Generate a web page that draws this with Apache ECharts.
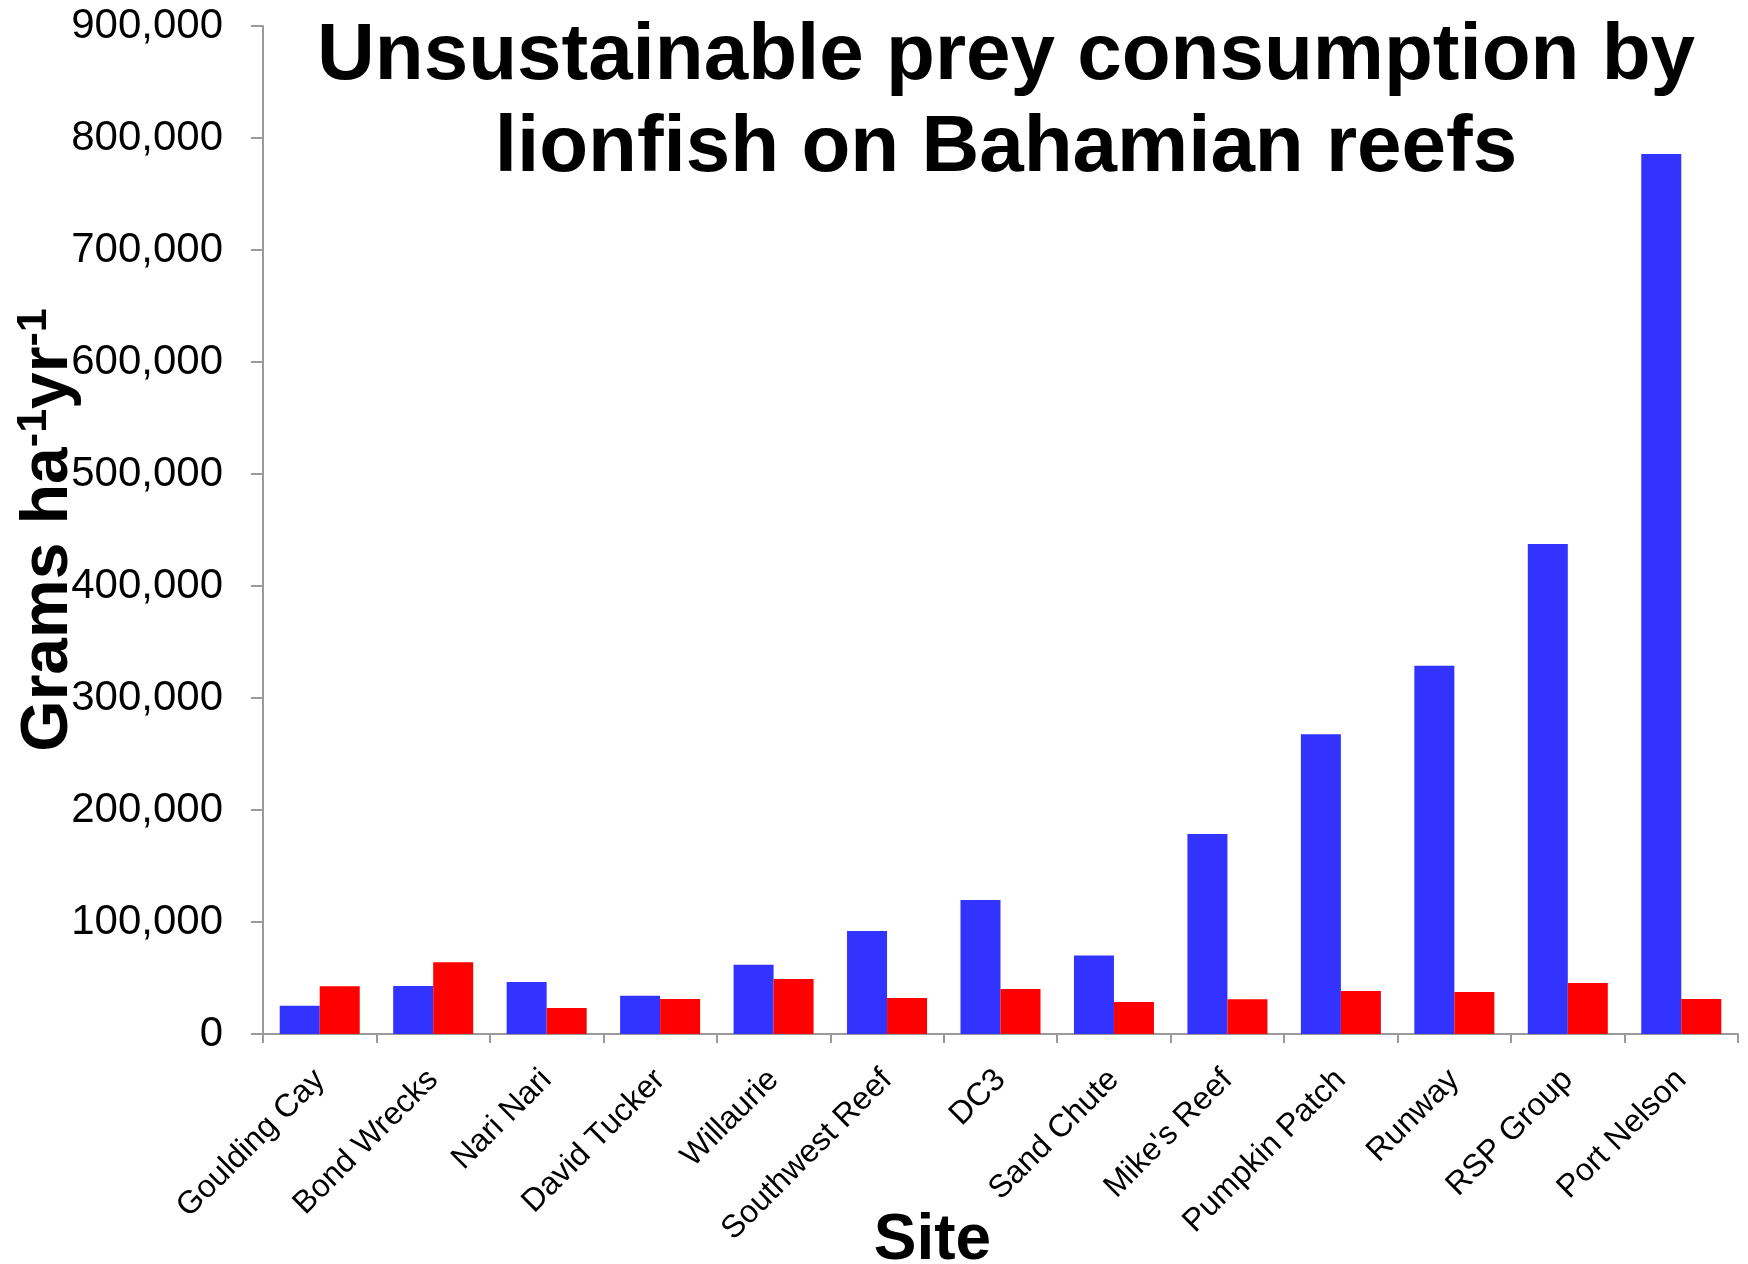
<!DOCTYPE html>
<html>
<head>
<meta charset="utf-8">
<title>Unsustainable prey consumption by lionfish on Bahamian reefs</title>
<script src="https://cdn.jsdelivr.net/npm/echarts@6/dist/echarts.min.js"></script>
<style>
  html, body { margin: 0; padding: 0; background: #ffffff; }
  #chart { width: 1748px; height: 1264px; }
</style>
</head>
<body>
<div id="chart"></div>
<script>
// Reef sites, ordered along the x axis
const sites = [
  'Goulding Cay', 'Bond Wrecks', 'Nari Nari', 'David Tucker', 'Willaurie',
  'Southwest Reef', 'DC3', 'Sand Chute', "Mike's Reef", 'Pumpkin Patch',
  'Runway', 'RSP Group', 'Port Nelson'
];

// Prey biomass eaten by lionfish (g per hectare per year)
const preyConsumed = [
  25300, 42900, 46400, 34200, 61900,
  92000, 119600, 70200, 178600, 267600,
  328900, 437500, 785700
];

// Prey biomass produced on the reef (g per hectare per year)
const preyProduced = [
  42600, 64000, 23200, 31300, 49100,
  32100, 40200, 28600, 31100, 38400,
  37500, 45500, 31300
];

// Value axis range and step
const yMin = 0;
const yMax = 900000;
const yStep = 100000;

const FONT = '"Liberation Sans", Arial, Helvetica, sans-serif';
const AXIS_GREY = '#9a9a9a';

const chart = echarts.init(document.getElementById('chart'), null, { renderer: 'canvas' });

chart.setOption({
  backgroundColor: '#ffffff',
  animation: false,
  title: {
    text: 'Unsustainable prey consumption by\nlionfish on Bahamian reefs',
    left: 1001,
    top: 6,
    textAlign: 'center',
    textStyle: {
      fontFamily: FONT,
      fontWeight: 'bold',
      fontSize: 80,
      lineHeight: 92,
      color: '#000000'
    }
  },
  grid: {
    left: 263,
    right: 10,
    top: 26,
    bottom: 230,
    containLabel: false,
    outerBoundsMode: 'none'
  },
  xAxis: {
    type: 'category',
    data: sites,
    boundaryGap: true,
    name: 'Site',
    nameLocation: 'middle',
    nameGap: 175,
    nameMoveOverlap: false,
    nameTextStyle: {
      fontFamily: FONT,
      fontWeight: 'bold',
      fontSize: 64,
      color: '#000000',
      padding: [0, 136, 0, 0]
    },
    axisLine: { show: true, lineStyle: { color: AXIS_GREY, width: 2 } },
    axisTick: {
      show: true,
      alignWithLabel: false,
      interval: 0,
      length: 9,
      lineStyle: { color: AXIS_GREY, width: 2 }
    },
    axisLabel: {
      interval: 0,
      rotate: 45,
      margin: 41,
      fontFamily: FONT,
      fontSize: 32,
      color: '#000000'
    },
    splitLine: { show: false }
  },
  yAxis: {
    type: 'value',
    min: yMin,
    max: yMax,
    interval: yStep,
    // unit with superscript exponents
    name: '{a|Grams ha}{s|-1}{a|yr}{s|-1}',
    nameLocation: 'middle',
    nameRotate: 90,
    nameGap: 181,
    nameMoveOverlap: false,
    nameTextStyle: {
      fontFamily: FONT,
      fontWeight: 'bold',
      color: '#000000',
      rich: {
        a: {
          fontFamily: FONT,
          fontWeight: 'bold',
          fontSize: 66,
          lineHeight: 69,
          verticalAlign: 'bottom',
          color: '#000000'
        },
        s: {
          fontFamily: FONT,
          fontWeight: 'bold',
          fontSize: 43,
          lineHeight: 45,
          verticalAlign: 'top',
          color: '#000000'
        }
      }
    },
    axisLine: { show: true, lineStyle: { color: AXIS_GREY, width: 2 } },
    axisTick: {
      show: true,
      inside: false,
      length: 12,
      lineStyle: { color: AXIS_GREY, width: 2 }
    },
    axisLabel: {
      margin: 40,
      fontFamily: FONT,
      fontSize: 42,
      color: '#000000',
      formatter: function (v) {
        return v.toString().replace(/\B(?=(\d{3})+(?!\d))/g, ',');
      }
    },
    splitLine: { show: false }
  },
  series: [
    {
      name: 'Prey consumed by lionfish',
      type: 'bar',
      data: preyConsumed,
      barWidth: 40,
      barGap: '0%',
      itemStyle: { color: '#3333ff' }
    },
    {
      name: 'Prey produced',
      type: 'bar',
      data: preyProduced,
      barWidth: 40,
      barGap: '0%',
      itemStyle: { color: '#ff0000' }
    }
  ]
});
</script>
</body>
</html>
